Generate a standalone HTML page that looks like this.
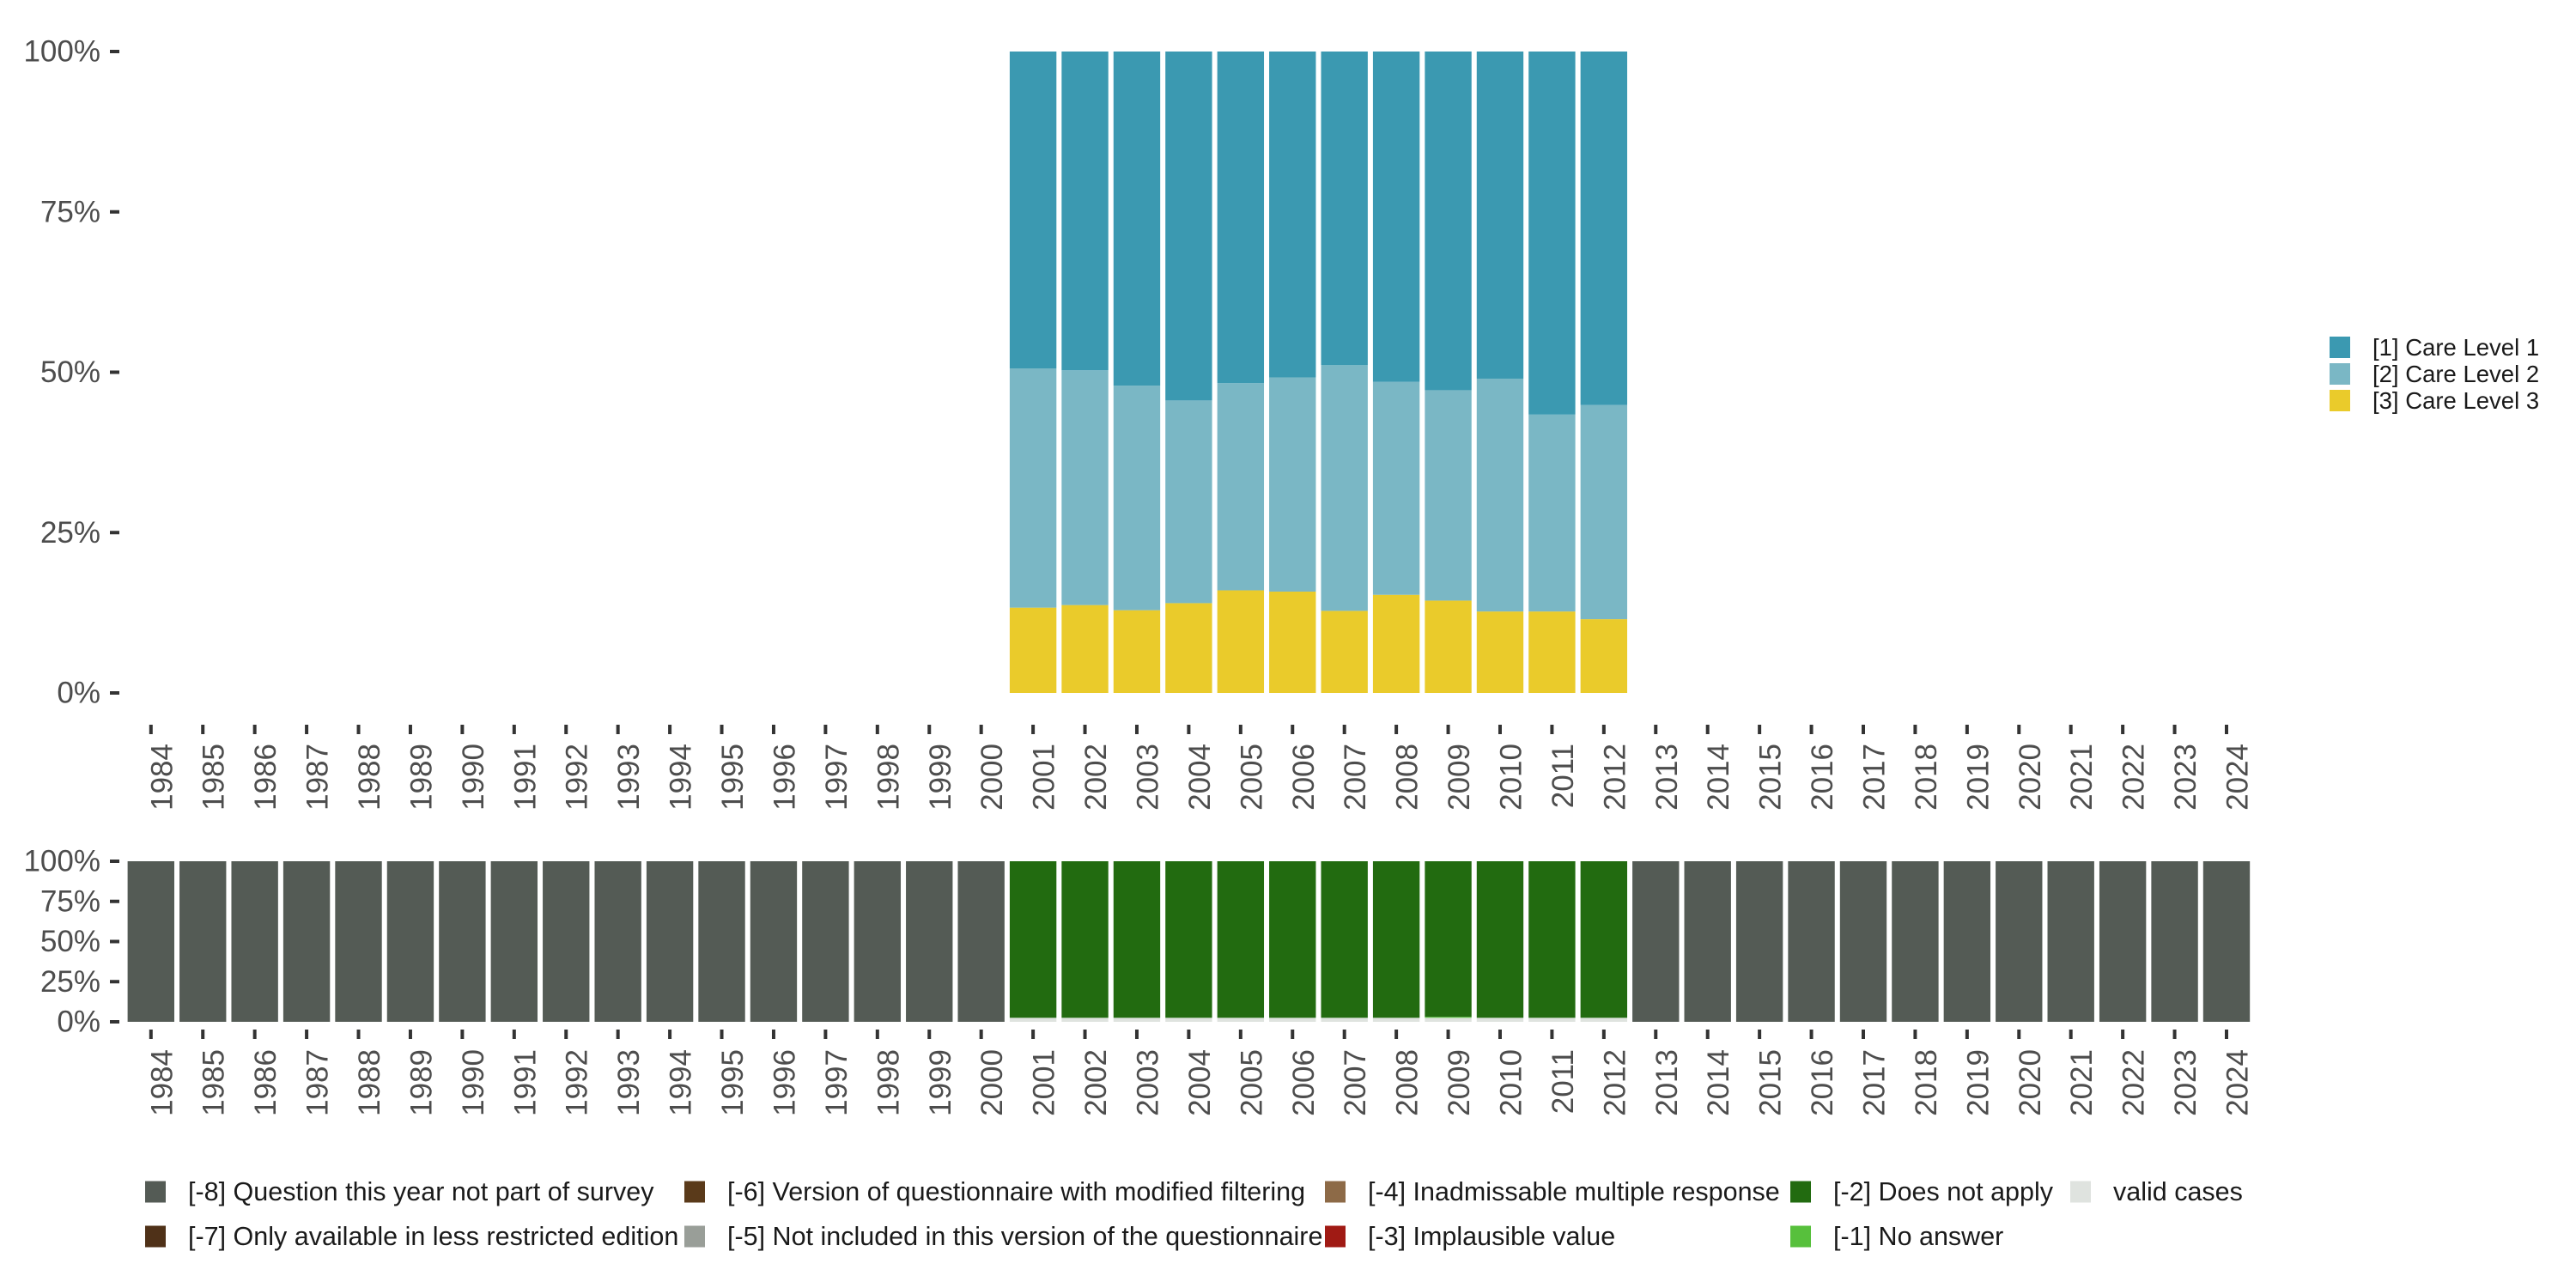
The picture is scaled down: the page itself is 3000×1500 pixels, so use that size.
<!DOCTYPE html>
<html><head><meta charset="utf-8">
<style>
html,body{margin:0;padding:0;background:#fff;}
svg{display:block;font-family:"Liberation Sans",sans-serif;}
</style></head>
<body>
<svg id="chart" width="3000" height="1500" viewBox="0 0 3000 1500" xmlns="http://www.w3.org/2000/svg">
<g id="top"></g>
<g id="bottom"></g>
<g id="legend-right"></g>
<g id="legend-bottom"></g>
</svg>
<script>
const years = [];
for (let y = 1984; y <= 2024; y++) years.push(y);
const careYears = [2001,2002,2003,2004,2005,2006,2007,2008,2009,2010,2011,2012];
const level3 = [13.3,13.7,12.9,14.0,16.0,15.8,12.8,15.3,14.4,12.7,12.7,11.5];
const level2 = [37.3,36.6,35.0,31.6,32.3,33.4,38.3,33.2,32.8,36.3,30.7,33.4];
const level1 = [49.4,49.7,52.1,54.4,51.7,50.8,48.9,51.5,52.8,51.0,56.6,55.1];
const yTicks = [0,25,50,75,100];
const yTickLabels = ["0%","25%","50%","75%","100%"];
const validShare = [2.5,2.5,2.5,2.5,2.5,2.5,2.5,2.5,2.5,2.5,2.5,2.5];
const noAnswerShare = [0,0,0,0,0,0,0,0,0.6,0,0,0];

const NS = "http://www.w3.org/2000/svg";
function mk(tag, attrs, parent){ const e=document.createElementNS(NS,tag); for(const k in attrs) e.setAttribute(k,attrs[k]); parent.appendChild(e); return e; }
const x0 = 175.8, step = 60.43, bw = step*0.9;
function xs(year){ return x0 + (year-1984)*step; }

function panel(g, top, bottom, tickY0, tickY1, labelY, name){
  const ys = v => bottom - (bottom-top)*v/100;
  yTicks.forEach((t,i)=>{
    const tk = mk('line',{x1:128,x2:139,y1:ys(t),y2:ys(t),stroke:'#333',"stroke-width":4},g);
    
    
    const tl = mk('text',{x:117,y:ys(t),"text-anchor":"end","dominant-baseline":"central","font-size":35,fill:'#4d4d4d'},g);
    tl.textContent = yTickLabels[i];
    
    
  });
  years.forEach(yr=>{
    const x = xs(yr);
    const tk = mk('line',{x1:x,x2:x,y1:tickY0,y2:tickY1,stroke:'#333',"stroke-width":4},g);
    
    
    const tl = mk('text',{x:0,y:0,transform:`translate(${x+13},${labelY}) rotate(-90)`,"text-anchor":"end","dominant-baseline":"central","font-size":35,fill:'#4d4d4d'},g);
    tl.textContent = yr;
    
    
  });
  return ys;
}

const gt = document.getElementById('top');
const ysT = panel(gt, 60, 807, 844, 855, 866, 'top');
const cols = ['#eacb2b','#7ab7c5','#3b99b1'];
careYears.forEach((yr,i)=>{
  const vals = [level3[i], level2[i], level1[i]];
  let cum = 0;
  vals.forEach((v,j)=>{
    const r = mk('rect',{x:xs(yr)-bw/2,y:ysT(cum+v),width:bw,height:ysT(cum)-ysT(cum+v),fill:cols[j]},gt);
    
    
    cum += v;
  });
});

const gb = document.getElementById('bottom');
const ysB = panel(gb, 1003, 1190, 1199, 1210, 1222, 'bottom');
years.forEach(yr=>{
  const idx = careYears.indexOf(yr);
  const segs = idx<0 ? [[100,'#545b55']] : [[validShare[idx],'#dfe3df'],[noAnswerShare[idx],'#57c03c'],[100-validShare[idx]-noAnswerShare[idx],'#226b10']];
  let cum = 0;
  segs.forEach(([v,c])=>{
    if(v<=0) return;
    const r = mk('rect',{x:xs(yr)-bw/2,y:ysB(cum+v),width:bw,height:ysB(cum)-ysB(cum+v),fill:c},gb);
    
    
    cum += v;
  });
});

const gl = document.getElementById('legend-right');
const lr = [['[1] Care Level 1','#3b99b1'],['[2] Care Level 2','#7ab7c5'],['[3] Care Level 3','#eacb2b']];
lr.forEach((it,i)=>{
  const y = 392 + i*31;
  const r = mk('rect',{x:2713,y:y,width:24,height:25,fill:it[1]},gl);
  
  
  const t = mk('text',{x:2763,y:y+12.5,"dominant-baseline":"central","font-size":27.5,fill:'#1a1a1a'},gl);
  t.textContent = it[0];
  
  
});

const gbl = document.getElementById('legend-bottom');
const lb = [
 ['[-8] Question this year not part of survey','#545b55',169,1388],
 ['[-7] Only available in less restricted edition','#4f3118',169,1440],
 ['[-6] Version of questionnaire with modified filtering','#5a3a1a',797,1388],
 ['[-5] Not included in this version of the questionnaire','#999e98',797,1440],
 ['[-4] Inadmissable multiple response','#8d6a47',1543,1388],
 ['[-3] Implausible value','#a01a14',1543,1440],
 ['[-2] Does not apply','#226b10',2085,1388],
 ['[-1] No answer','#57c03c',2085,1440],
 ['valid cases','#dfe3df',2411,1388]
];
lb.forEach(it=>{
  const r = mk('rect',{x:it[2],y:it[3]-12.5,width:24,height:25,fill:it[1]},gbl);
  
  
  const t = mk('text',{x:it[2]+50,y:it[3],"dominant-baseline":"central","font-size":30.5,fill:'#1a1a1a'},gbl);
  t.textContent = it[0];
  
  
});
</script>
</body></html>
